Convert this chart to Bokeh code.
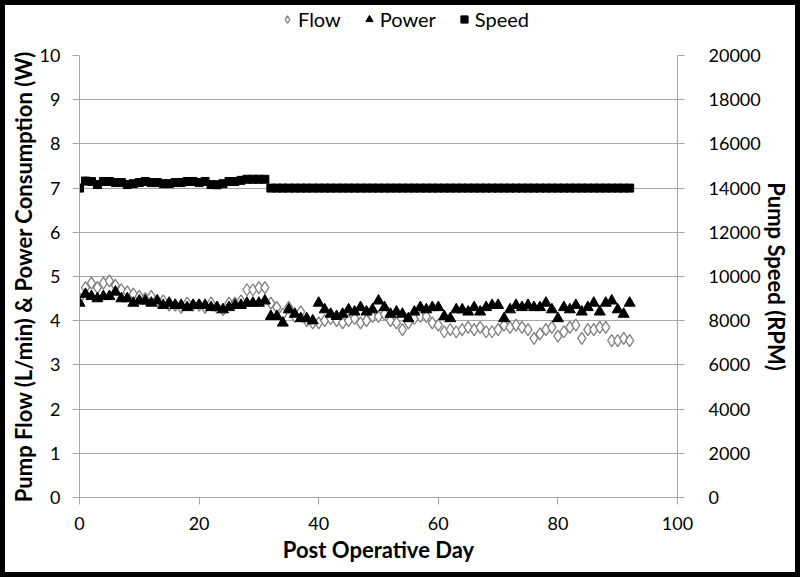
from bokeh.plotting import figure
from bokeh.models import Range1d, LinearAxis, Legend, LegendItem, FixedTicker
from bokeh.layouts import column
from bokeh.embed import file_html
from bokeh.resources import INLINE

days = list(range(93))

flow = [4.50, 4.75, 4.85, 4.75, 4.85, 4.90, 4.80, 4.70, 4.65, 4.60,
        4.55, 4.50, 4.55, 4.45, 4.45, 4.35, 4.35, 4.30, 4.40, 4.35,
        4.35, 4.30, 4.40, 4.30, 4.25, 4.40, 4.40, 4.45, 4.70, 4.70,
        4.75, 4.75, 4.40, 4.30, 4.15, 4.30, 4.10, 4.20, 4.00, 3.95,
        3.95, 4.00, 4.05, 4.00, 3.95, 4.00, 4.05, 3.95, 4.00, 4.10,
        4.10, 4.15, 4.00, 3.95, 3.80, 3.95, 4.05, 4.10, 4.10, 3.95,
        3.90, 3.75, 3.80, 3.75, 3.80, 3.85, 3.80, 3.85, 3.75, 3.75,
        3.80, 3.90, 3.85, 3.90, 3.85, 3.80, 3.60, 3.70, 3.80, 3.85,
        3.65, 3.75, 3.85, 3.90, 3.60, 3.80, 3.80, 3.85, 3.85, 3.55,
        3.55, 3.60, 3.55]

power = [4.40, 4.60, 4.55, 4.50, 4.55, 4.55, 4.65, 4.50, 4.50, 4.40,
         4.45, 4.45, 4.40, 4.45, 4.35, 4.40, 4.35, 4.35, 4.30, 4.35,
         4.35, 4.35, 4.30, 4.30, 4.25, 4.30, 4.35, 4.35, 4.40, 4.40,
         4.40, 4.45, 4.10, 4.10, 3.95, 4.25, 4.15, 4.05, 4.05, 4.00,
         4.40, 4.25, 4.15, 4.10, 4.15, 4.25, 4.20, 4.30, 4.20, 4.25,
         4.45, 4.30, 4.15, 4.20, 4.15, 4.05, 4.20, 4.30, 4.25, 4.30,
         4.30, 4.10, 4.05, 4.25, 4.25, 4.20, 4.30, 4.20, 4.30, 4.35,
         4.35, 4.05, 4.25, 4.35, 4.30, 4.35, 4.30, 4.30, 4.40, 4.25,
         4.05, 4.30, 4.25, 4.35, 4.20, 4.30, 4.40, 4.20, 4.40, 4.45,
         4.25, 4.15, 4.40]

speed = [14000, 14320, 14300, 14160, 14300, 14300, 14250, 14250, 14160, 14200,
         14250, 14300, 14250, 14250, 14200, 14200, 14250, 14250, 14300, 14300,
         14250, 14300, 14160, 14150, 14200, 14300, 14300, 14350, 14400, 14400,
         14400, 14400] + [14000] * 61

series_names = ["Flow", "Power", "Speed"]
left_ticks = [0, 1, 2, 3, 4, 5, 6, 7, 8, 9, 10]
right_ticks = [0, 2000, 4000, 6000, 8000, 10000, 12000, 14000, 16000, 18000, 20000]
x_ticks = [0, 20, 40, 60, 80, 100]

FONT = "Lato"
GRAY = "#a6a6a6"

flow_style = dict(marker="diamond", line_color="#7f7f7f", line_width=1.3, fill_color="white")
power_style = dict(marker="triangle", line_color="black", fill_color="black")
speed_style = dict(marker="square", line_color="black", fill_color="black")

# ---- main chart ----
p = figure(width=790, height=529, output_backend="svg", toolbar_location=None,
           x_range=Range1d(0, 100), y_range=Range1d(0, 10),
           min_border_left=74, min_border_right=118, min_border_top=12, min_border_bottom=75)
p.outline_line_color = None
p.background_fill_color = "white"
p.border_fill_color = "white"

p.extra_y_ranges = {"speed": Range1d(0, 20000)}
ry = LinearAxis(y_range_name="speed", axis_label="Pump Speed (RPM)")
p.add_layout(ry, "right")

p.xaxis.axis_label = "Post Operative Day"
p.yaxis[0].axis_label = "Pump Flow (L/min) & Power Consumption (W)"

p.xaxis.ticker = FixedTicker(ticks=x_ticks)
p.yaxis[0].ticker = FixedTicker(ticks=left_ticks)
ry.ticker = FixedTicker(ticks=right_ticks)

for ax in p.axis:
    ax.axis_line_color = GRAY
    ax.major_tick_line_color = GRAY
    ax.minor_tick_line_color = None
    ax.major_tick_in = 0
    ax.major_tick_out = 7
    ax.major_label_text_font = FONT
    ax.major_label_text_font_size = "18px"
    ax.major_label_text_color = "black"
    ax.axis_label_text_font = FONT
    ax.axis_label_text_font_size = "22px"
    ax.axis_label_text_font_style = "bold"
    ax.axis_label_text_color = "black"

p.yaxis[0].major_label_standoff = 12
p.yaxis[0].axis_label_standoff = 0
ry.major_label_standoff = 24
ry.axis_label_standoff = -1
p.xaxis.major_label_standoff = 12
p.xaxis.axis_label_standoff = 3

p.xgrid.grid_line_color = None
p.ygrid.grid_line_color = GRAY
p.ygrid.ticker = FixedTicker(ticks=left_ticks)

p.scatter(days, flow, size=12, **flow_style)
p.scatter(days, power, size=11, **power_style)
p.scatter(days, speed, size=8, y_range_name="speed", **speed_style)

# ---- legend strip on top (its ranges keep the series out of view) ----
lf = figure(width=790, height=38, output_backend="svg", toolbar_location=None,
            x_axis_type=None, y_axis_type=None,
            x_range=Range1d(-2, -1), y_range=Range1d(-2, -1),
            min_border=0, min_border_left=0, min_border_right=0, min_border_top=0, min_border_bottom=0)
lf.outline_line_color = None
lf.xgrid.grid_line_color = None
lf.ygrid.grid_line_color = None
lr_flow = lf.scatter(days, flow, **flow_style)
lr_power = lf.scatter(days, power, **power_style)
lr_speed = lf.scatter(days, speed, **speed_style)

legend = Legend(items=[LegendItem(label=series_names[0], renderers=[lr_flow]),
                       LegendItem(label=series_names[1], renderers=[lr_power]),
                       LegendItem(label=series_names[2], renderers=[lr_speed])],
                orientation="horizontal", location=(199, 12),
                label_text_font=FONT, label_text_font_size="20px", label_text_color="black",
                glyph_width=18, glyph_height=18, spacing=19, label_standoff=2,
                padding=0, margin=0, border_line_color=None,
                background_fill_alpha=0)
lf.add_layout(legend, "center")

layout = column(lf, p, spacing=0, margin=(5, 5, 5, 5),
                styles={"outline": "5px solid black"})

open("out.html", "w").write(file_html(layout, INLINE))
